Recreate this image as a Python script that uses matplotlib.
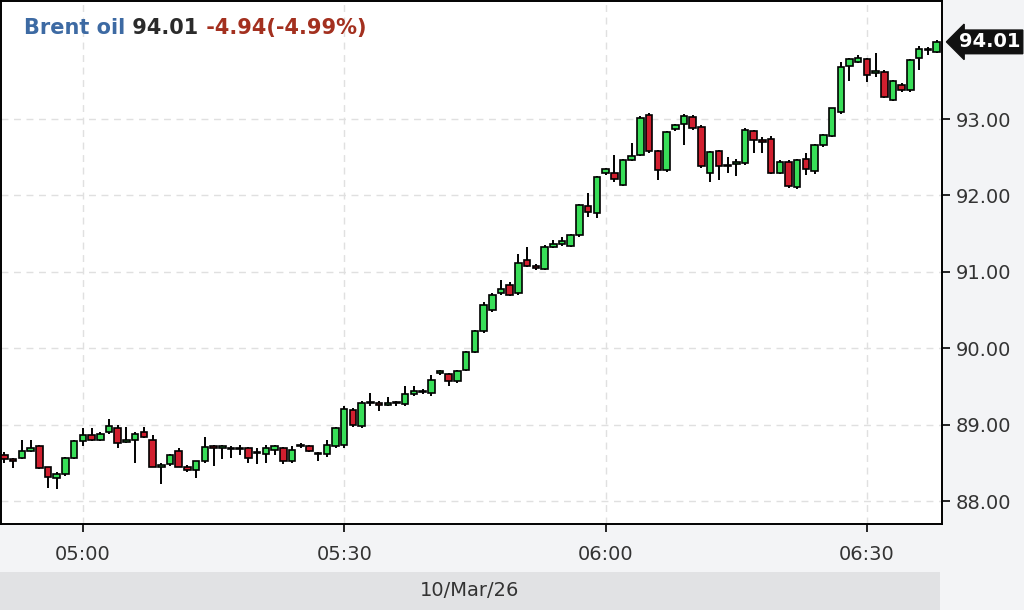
import numpy as np
import matplotlib.pyplot as plt
from matplotlib.patches import Rectangle
from matplotlib.transforms import blended_transform_factory

# one-minute candles, first one at 04:51
start_minute = 4 * 60 + 51

opens = [88.60, 88.55, 88.57, 88.66, 88.72, 88.44, 88.30, 88.36, 88.56, 88.78,
         88.86, 88.80, 88.90, 88.96, 88.77, 88.80, 88.90, 88.80, 88.45, 88.48,
         88.66, 88.45, 88.41, 88.52, 88.71, 88.70, 88.70, 88.68, 88.69, 88.63,
         88.62, 88.67, 88.69, 88.52, 88.72, 88.72, 88.62, 88.61, 88.72, 88.74,
         89.19, 88.98, 89.28, 89.28, 89.26, 89.29, 89.27, 89.40, 89.44, 89.42,
         89.67, 89.66, 89.57, 89.71, 89.95, 90.22, 90.50, 90.72, 90.83, 90.72,
         91.16, 91.08, 91.04, 91.33, 91.36, 91.34, 91.48, 91.86, 91.77, 92.30,
         92.30, 92.14, 92.46, 92.53, 93.05, 92.58, 92.33, 92.87, 92.93, 93.03,
         92.90, 92.30, 92.58, 92.38, 92.41, 92.42, 92.84, 92.72, 92.74, 92.30,
         92.44, 92.11, 92.48, 92.32, 92.66, 92.78, 93.09, 93.70, 93.75, 93.78,
         93.60, 93.62, 93.25, 93.44, 93.38, 93.80, 93.90, 93.88]
highs = [88.64, 88.57, 88.80, 88.80, 88.74, 88.45, 88.38, 88.58, 88.80, 88.95,
         88.95, 88.90, 89.08, 88.99, 88.97, 88.90, 88.97, 88.86, 88.50, 88.62,
         88.70, 88.47, 88.53, 88.84, 88.74, 88.73, 88.72, 88.74, 88.71, 88.70,
         88.73, 88.74, 88.71, 88.72, 88.76, 88.74, 88.64, 88.80, 88.97, 89.24,
         89.22, 89.31, 89.41, 89.31, 89.36, 89.31, 89.50, 89.50, 89.47, 89.65,
         89.72, 89.68, 89.72, 89.96, 90.24, 90.60, 90.72, 90.90, 90.87, 91.24,
         91.33, 91.10, 91.35, 91.42, 91.46, 91.50, 91.89, 92.03, 92.26, 92.36,
         92.53, 92.48, 92.68, 93.04, 93.08, 92.60, 92.85, 92.93, 93.07, 93.05,
         92.92, 92.58, 92.60, 92.50, 92.48, 92.88, 92.86, 92.76, 92.78, 92.46,
         92.46, 92.48, 92.56, 92.67, 92.80, 93.15, 93.75, 93.80, 93.84, 93.80,
         93.87, 93.64, 93.51, 93.47, 93.79, 93.95, 93.94, 94.03]
lows = [88.50, 88.43, 88.55, 88.64, 88.42, 88.17, 88.16, 88.33, 88.55, 88.72,
        88.78, 88.79, 88.88, 88.69, 88.76, 88.50, 88.82, 88.44, 88.23, 88.46,
        88.44, 88.38, 88.30, 88.50, 88.46, 88.55, 88.56, 88.60, 88.50, 88.48,
        88.50, 88.60, 88.48, 88.50, 88.70, 88.64, 88.52, 88.58, 88.70, 88.70,
        88.97, 88.96, 89.25, 89.18, 89.24, 89.24, 89.25, 89.38, 89.40, 89.38,
        89.65, 89.50, 89.55, 89.70, 89.94, 90.20, 90.48, 90.70, 90.68, 90.70,
        91.06, 91.03, 91.02, 91.31, 91.34, 91.32, 91.46, 91.72, 91.70, 92.27,
        92.18, 92.12, 92.45, 92.51, 92.56, 92.20, 92.31, 92.85, 92.66, 92.86,
        92.36, 92.18, 92.20, 92.30, 92.26, 92.40, 92.55, 92.55, 92.28, 92.28,
        92.10, 92.09, 92.27, 92.28, 92.64, 92.76, 93.07, 93.50, 93.74, 93.49,
        93.55, 93.27, 93.23, 93.36, 93.36, 93.64, 93.84, 93.87]
closes = [88.55, 88.53, 88.66, 88.69, 88.43, 88.31, 88.36, 88.56, 88.78, 88.86,
          88.80, 88.88, 88.98, 88.76, 88.80, 88.88, 88.84, 88.45, 88.47, 88.60,
          88.45, 88.41, 88.52, 88.71, 88.70, 88.70, 88.68, 88.69, 88.56, 88.64,
          88.69, 88.72, 88.53, 88.67, 88.74, 88.66, 88.61, 88.73, 88.95, 89.20,
          89.00, 89.29, 89.29, 89.26, 89.29, 89.28, 89.40, 89.44, 89.43, 89.58,
          89.70, 89.57, 89.70, 89.95, 90.22, 90.57, 90.70, 90.77, 90.70, 91.11,
          91.08, 91.05, 91.33, 91.37, 91.40, 91.48, 91.87, 91.78, 92.24, 92.34,
          92.22, 92.46, 92.52, 93.02, 92.58, 92.33, 92.83, 92.92, 93.04, 92.88,
          92.38, 92.57, 92.38, 92.40, 92.44, 92.86, 92.72, 92.70, 92.30, 92.44,
          92.12, 92.46, 92.35, 92.66, 92.79, 93.14, 93.68, 93.78, 93.80, 93.58,
          93.63, 93.29, 93.50, 93.38, 93.77, 93.92, 93.91, 94.01]

y_ticks = [88, 89, 90, 91, 92, 93]
x_ticks = [5 * 60, 5 * 60 + 30, 6 * 60, 6 * 60 + 30]
x_tick_labels = ['05:00', '05:30', '06:00', '06:30']
instrument = 'Brent oil'
last_price = 94.01
change = -4.94
change_pct = -4.99
date_label = '10/Mar/26'

GREEN = '#38de58'
RED = '#d11f2f'

o = np.array(opens)
h = np.array(highs)
l = np.array(lows)
c = np.array(closes)
x = start_minute + np.arange(len(o))

fig = plt.figure(figsize=(10.24, 6.10), dpi=100, facecolor='#f3f4f6')
ax = fig.add_axes([1 / 1024, 86 / 610, 941 / 1024, 523 / 610])
ax.set_facecolor('white')

# date band under the tick labels
fig.patches.append(Rectangle((0, 0), 940 / 1024, 38 / 610, transform=fig.transFigure,
                             facecolor='#e1e2e4', edgecolor='none', zorder=0))
fig.text(470 / 1024, 20 / 610, date_label, ha='center', va='center',
         fontsize=14, color='#333333')

# candles
ax.vlines(x, l, h, color='black', linewidth=1.4, zorder=2)
body_bottom = np.minimum(o, c)
body_height = np.maximum(np.abs(c - o), 0.015)
colors = [GREEN if cc >= oo else RED for oo, cc in zip(o, c)]
ax.bar(x, body_height, bottom=body_bottom, width=0.75, color=colors,
       edgecolor='black', linewidth=1.2, zorder=3)

ax.set_xlim(300 - 9.40, 300 + 98.62)
ax.set_ylim(87.70, 94.545)

ax.yaxis.tick_right()
ax.set_yticks(y_ticks)
ax.set_yticklabels([f'{v:.2f}' for v in y_ticks])
ax.set_xticks(x_ticks)
ax.set_xticklabels(x_tick_labels)
ax.tick_params(axis='both', direction='out', length=6, width=1.2, color='black',
               labelsize=14, labelcolor='#333333')
ax.tick_params(axis='x', pad=9)
ax.tick_params(axis='y', pad=4)

ax.grid(True, color='#e0e0e0', linestyle=(0, (5, 4)), linewidth=1, zorder=0)
ax.set_axisbelow(True)
for side in ['left', 'right', 'top', 'bottom']:
    ax.spines[side].set_color('black')
    ax.spines[side].set_linewidth(1.4)

# header text
t1 = ax.text(0.0245, 0.937, instrument, transform=ax.transAxes, color='#3d6aa3',
             fontsize=15, fontweight='bold', va='baseline', ha='left')
t2 = ax.annotate(f' {last_price:.2f}', xy=(1, 0), xycoords=t1, va='bottom', ha='left',
                 color='#2b2b2b', fontsize=15, fontweight='bold')
ax.annotate(f' {change:.2f}({change_pct:.2f}%)', xy=(1, 0), xycoords=t2, va='bottom',
            ha='left', color='#a3301f', fontsize=15, fontweight='bold')

# current price marker on the right axis
trans = blended_transform_factory(ax.transAxes, ax.transData)
ax.text(1.018, last_price, f'{last_price:.2f}', transform=trans, ha='left', va='center',
        color='white', fontsize=14, fontweight='bold', clip_on=False, zorder=5,
        bbox=dict(boxstyle='larrow,pad=0.12', facecolor='#111111', edgecolor='#111111'))

fig.savefig('out.png', dpi=100, facecolor=fig.get_facecolor())
